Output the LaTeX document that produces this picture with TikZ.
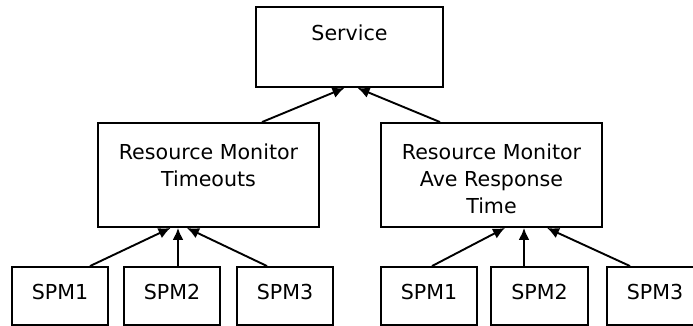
\documentclass[tikz,border=0pt]{standalone}
\usepackage{fontspec}
\setmainfont{DejaVu Sans}
\usetikzlibrary{arrows.meta}
\tikzstyle{block} = [rectangle, draw, line width=1.9pt, inner sep=0pt]
\tikzstyle{line} = [draw, line width=1.9pt, -{Latex[length=12pt,width=11pt]}]
% box of fixed size, text set from the top
\newcommand{\boxtext}[4]{\parbox[c][#2pt][t]{#1pt}{\centering\vspace{#3pt}#4}}

\begin{document}
\begin{tikzpicture}[x=1pt, y=-1pt, font=\fontsize{20.6}{27}\selectfont]
  \useasboundingbox (0,0) rectangle (693,326);
  \node [block] (service) at (349.5,47) {\boxtext{187}{80}{18}{Service}};
  \node [block] (rm_timeouts) at (208.5,175)
    {\boxtext{221}{104}{21}{Resource Monitor\\Timeouts}};
  \node [block] (rm_response) at (491.5,175)
    {\boxtext{221}{104}{21}{Resource Monitor\\Ave Response\\Time}};
  \node [block] (spm_a1) at (60,296) {\boxtext{96}{58}{17}{SPM1}};
  \node [block] (spm_a2) at (172,296) {\boxtext{96}{58}{17}{SPM2}};
  \node [block] (spm_a3) at (285,296) {\boxtext{96}{58}{17}{SPM3}};
  \node [block] (spm_b1) at (429,296) {\boxtext{96}{58}{17}{SPM1}};
  \node [block] (spm_b2) at (539.5,296) {\boxtext{97}{58}{17}{SPM2}};
  \node [block] (spm_b3) at (655,296) {\boxtext{96}{58}{17}{SPM3}};
  \path [line] ([xshift=53.5pt]rm_timeouts.north) -- ([xshift=-5pt]service.south);
  \path [line] ([xshift=-51.5pt]rm_response.north) -- ([xshift=8pt]service.south);
  \path [line] ([xshift=30pt]spm_a1.north) -- ([xshift=-38pt]rm_timeouts.south);
  \path [line] ([xshift=6pt]spm_a2.north) -- ([xshift=-30.5pt]rm_timeouts.south);
  \path [line] ([xshift=-18pt]spm_a3.north) -- ([xshift=-21.5pt]rm_timeouts.south);
  \path [line] ([xshift=3pt]spm_b1.north) -- ([xshift=13.5pt]rm_response.south);
  \path [line] ([xshift=-15.5pt]spm_b2.north) -- ([xshift=32.5pt]rm_response.south);
  \path [line] ([xshift=-25pt]spm_b3.north) -- ([xshift=55.5pt]rm_response.south);
\end{tikzpicture}
\end{document}
